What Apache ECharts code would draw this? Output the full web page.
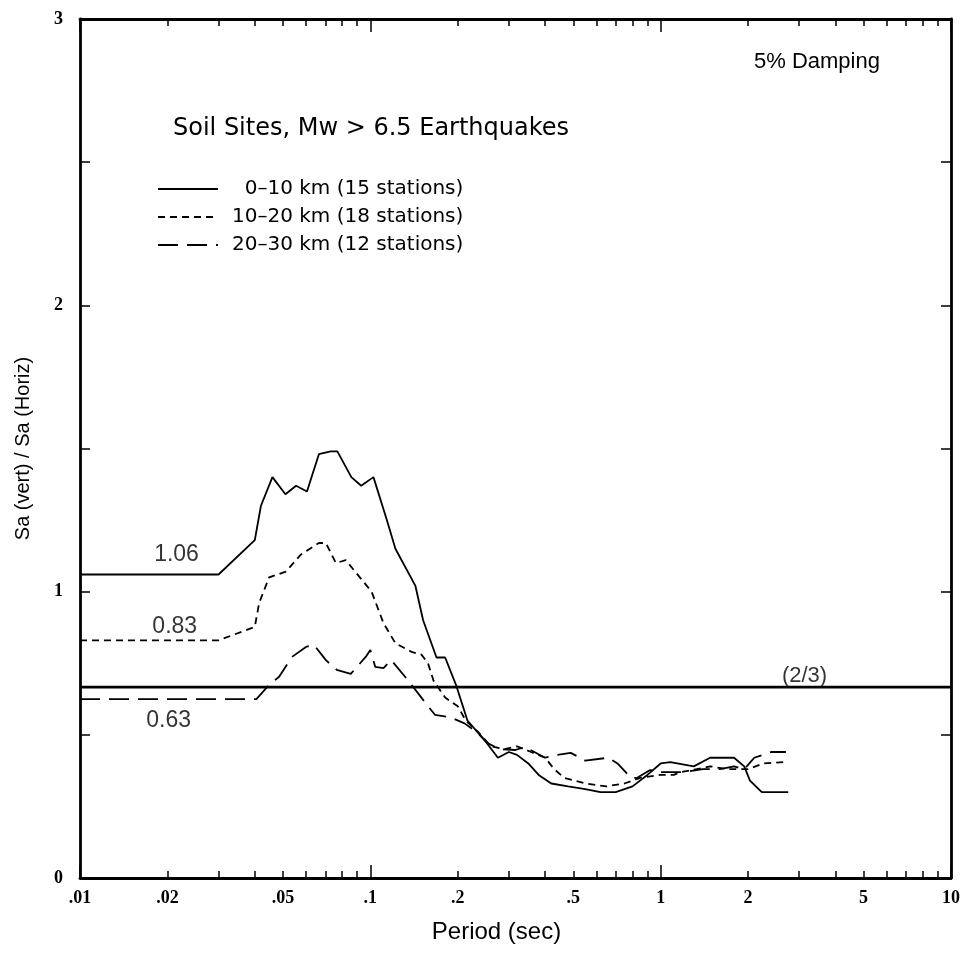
<!DOCTYPE html>
<html>
<head>
<meta charset="utf-8">
<script src="https://cdn.jsdelivr.net/npm/echarts@6/dist/echarts.min.js"></script>
<style>html,body{margin:0;padding:0;background:#fff}#chart{width:963px;height:955px}</style>
</head>
<body>
<div id="chart"></div>
<script>
// ---- Data ----
const seriesNames = ['0\u201310 km (15 stations)', '10\u201320 km (18 stations)', '20\u201330 km (12 stations)'];

const periods0 = [0.01, 0.030, 0.040, 0.042, 0.046, 0.051, 0.0555, 0.0605, 0.0665, 0.073, 0.077, 0.086, 0.093, 0.1025, 0.114, 0.122, 0.143, 0.152, 0.169, 0.181, 0.198, 0.216, 0.248, 0.275, 0.30, 0.32, 0.35, 0.38, 0.42, 0.48, 0.55, 0.62, 0.70, 0.80, 0.90, 1.0, 1.08, 1.3, 1.48, 1.79, 1.94, 2.03, 2.23, 2.75];
const ratio0   = [1.06, 1.06, 1.18, 1.30, 1.40, 1.34, 1.37, 1.35, 1.48, 1.49, 1.49, 1.40, 1.37, 1.40, 1.25, 1.15, 1.02, 0.90, 0.77, 0.77, 0.67, 0.55, 0.48, 0.42, 0.44, 0.43, 0.40, 0.36, 0.33, 0.32, 0.31, 0.30, 0.30, 0.32, 0.36, 0.40, 0.405, 0.39, 0.42, 0.42, 0.39, 0.34, 0.30, 0.30];

const periods1 = [0.01, 0.030, 0.040, 0.0414, 0.0448, 0.0512, 0.0577, 0.0665, 0.0703, 0.0761, 0.0823, 0.101, 0.111, 0.122, 0.1385, 0.150, 0.158, 0.165, 0.181, 0.200, 0.213, 0.235, 0.26, 0.29, 0.32, 0.358, 0.40, 0.43, 0.465, 0.55, 0.65, 0.75, 0.85, 1.0, 1.11, 1.17, 1.33, 1.48, 1.7, 2.0, 2.25, 2.7];
const ratio1   = [0.83, 0.83, 0.877, 0.96, 1.05, 1.07, 1.13, 1.17, 1.17, 1.10, 1.11, 1.00, 0.89, 0.82, 0.79, 0.78, 0.75, 0.69, 0.63, 0.60, 0.55, 0.51, 0.46, 0.45, 0.46, 0.44, 0.42, 0.38, 0.35, 0.33, 0.32, 0.33, 0.35, 0.36, 0.36, 0.37, 0.38, 0.39, 0.38, 0.38, 0.40, 0.405];

const periods2 = [0.01, 0.0405, 0.0448, 0.0485, 0.0537, 0.060, 0.064, 0.0703, 0.0766, 0.0856, 0.0964, 0.100, 0.104, 0.111, 0.118, 0.135, 0.158, 0.167, 0.19, 0.211, 0.235, 0.254, 0.28, 0.316, 0.34, 0.40, 0.44, 0.49, 0.55, 0.66, 0.71, 0.79, 0.83, 0.92, 1.0, 1.2, 1.4, 1.6, 1.79, 1.94, 2.1, 2.4, 2.7];
const ratio2   = [0.625, 0.625, 0.674, 0.703, 0.772, 0.807, 0.814, 0.761, 0.727, 0.713, 0.772, 0.796, 0.737, 0.733, 0.761, 0.69, 0.60, 0.57, 0.56, 0.54, 0.506, 0.47, 0.45, 0.447, 0.458, 0.42, 0.43, 0.437, 0.41, 0.42, 0.40, 0.35, 0.35, 0.377, 0.37, 0.37, 0.38, 0.38, 0.39, 0.38, 0.42, 0.44, 0.44];

const referencePeriods = [0.01, 10];
const referenceRatio = [2 / 3, 2 / 3];

const xLabelValues = [0.01, 0.02, 0.05, 0.1, 0.2, 0.5, 1, 2, 5, 10];
const xMajorTicks = [0.01, 0.1, 1, 10];
const xMinorTicks = [0.02, 0.03, 0.04, 0.05, 0.06, 0.07, 0.08, 0.09, 0.2, 0.3, 0.4, 0.5, 0.6, 0.7, 0.8, 0.9, 2, 3, 4, 5, 6, 7, 8, 9];

const annotText = ['1.06', '0.83', '0.63', '(2/3)'];
const annotX = [0.0215, 0.0212, 0.0202, 3.13];
const annotY = [1.06, 0.83, 0.63, 2 / 3];

// ---- Styles ----
const annotOffsets = [[0, -20], [0, -14], [0, 23], [0, -11]];
const dashTypes = ['solid', [7, 5], [20, 9]];

const chart = echarts.init(document.getElementById('chart'), null, {renderer: 'canvas'});

const pair = (xs, ys) => xs.map((x, i) => [x, ys[i]]);
const tickLabelFmt = v => {
  const s = String(+v.toPrecision(3));
  return s.replace(/^0\./, '.');
};

function xAxisDef(position, ticks, len, withLabels, withLine) {
  return {
    type: 'log', logBase: 10, min: 0.01, max: 10, gridIndex: 0, position: position,
    axisLine: {show: withLine, onZero: false, lineStyle: {color: '#000', width: 2.8}},
    axisTick: {show: true, inside: true, length: len, customValues: ticks, lineStyle: {color: '#000', width: 1.5}},
    axisLabel: withLabels ? {
      show: true, customValues: xLabelValues, formatter: tickLabelFmt, margin: 11,
      color: '#000', fontSize: 18, fontWeight: 'bold', fontFamily: 'Liberation Serif'
    } : {show: false},
    minorTick: {show: false},
    splitLine: {show: false},
    name: withLabels ? 'Period (sec)' : '',
    nameLocation: 'middle', nameGap: 42,
    nameTextStyle: {color: '#000', fontSize: 24, fontFamily: 'Liberation Sans', padding: [0, 38, 0, 0]}
  };
}

function yAxisDef(position, withLabels) {
  return {
    type: 'value', min: 0, max: 3, interval: 0.5, position: position,
    axisLine: {show: true, onZero: false, lineStyle: {color: '#000', width: 2.8}},
    axisTick: {show: true, inside: true, length: 10, lineStyle: {color: '#000', width: 1.5}},
    axisLabel: withLabels ? {
      show: true, margin: 17, color: '#000', fontSize: 18, fontWeight: 'bold', fontFamily: 'Liberation Serif',
      formatter: v => (Math.abs(v - Math.round(v)) < 1e-9 ? String(Math.round(v)) : '')
    } : {show: false},
    splitLine: {show: false},
    name: withLabels ? 'Sa (vert) / Sa (Horiz)' : '',
    nameLocation: 'middle', nameGap: 47, nameRotate: 90,
    nameTextStyle: {color: '#000', fontSize: 20, fontFamily: 'Liberation Sans'}
  };
}

const curveSeries = [pair(periods0, ratio0), pair(periods1, ratio1), pair(periods2, ratio2)].map((d, i) => ({
  name: seriesNames[i], type: 'line', data: d, xAxisIndex: 0, yAxisIndex: 0,
  symbol: 'none', showSymbol: false, smooth: false, silent: true,
  lineStyle: {color: '#000', width: 1.8, type: dashTypes[i]}, itemStyle: {color: '#000'},
  z: 3
}));

const option = {
  backgroundColor: '#fff',
  animation: false,
  textStyle: {fontFamily: 'Liberation Sans'},
  grid: {left: 80, right: 8, top: 19, bottom: 77, containLabel: false},
  title: [
    {text: '5% Damping', left: 749, top: 46, textStyle: {fontSize: 22, fontWeight: 'normal', color: '#000', fontFamily: 'Liberation Sans'}},
    {text: 'Soil Sites, Mw > 6.5 Earthquakes', left: 168, top: 112, textStyle: {fontSize: 24, fontWeight: 'normal', color: '#000', fontFamily: 'DejaVu Sans'}}
  ],
  legend: {
    data: seriesNames, orient: 'vertical', left: 157, top: 179, padding: 0,
    itemWidth: 60, itemHeight: 14, itemGap: 8,
    itemStyle: {opacity: 0},
    formatter: name => (name === seriesNames[0] ? '\u2007' + name : name),
    textStyle: {fontSize: 20, color: '#000', fontFamily: 'DejaVu Sans', padding: [0, 0, 0, 9]},
    selectedMode: false
  },
  xAxis: [
    xAxisDef('bottom', xMajorTicks, 13, true, true),
    xAxisDef('bottom', xMinorTicks, 7, false, false),
    xAxisDef('top', xMajorTicks, 13, false, true),
    xAxisDef('top', xMinorTicks, 7, false, false)
  ],
  yAxis: [yAxisDef('left', true), yAxisDef('right', false)],
  series: curveSeries.concat([
    {
      name: 'two-thirds', type: 'line', data: pair(referencePeriods, referenceRatio), xAxisIndex: 0, yAxisIndex: 0,
      symbol: 'none', silent: true, lineStyle: {color: '#000', width: 2.6, type: 'solid'}, z: 2
    },
    {
      name: 'annotations', type: 'scatter', xAxisIndex: 0, yAxisIndex: 0, silent: true, symbolSize: 0,
      data: annotText.map((t, i) => ({
        value: [annotX[i], annotY[i]],
        label: {show: true, formatter: t, position: 'inside', offset: annotOffsets[i],
          color: '#000', fontSize: i === 3 ? 22 : 23, fontFamily: 'Liberation Sans'}
      })),
      z: 5
    }
  ])
};

chart.setOption(option);
</script>
</body>
</html>
